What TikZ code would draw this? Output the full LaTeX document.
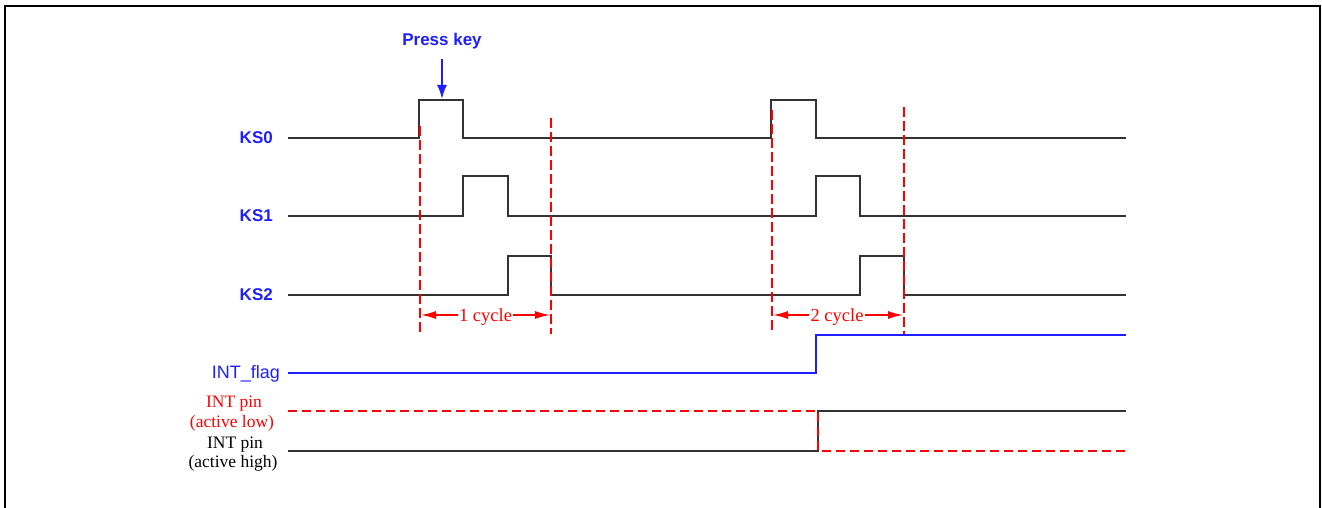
\documentclass[tikz,border=0pt]{standalone}
\usepackage{fontspec}
\setmainfont{Liberation Serif}
\setsansfont{Liberation Sans}
\usetikzlibrary{arrows.meta}
\definecolor{sigblue}{RGB}{30,30,255}
\definecolor{sigred}{RGB}{255,0,0}
\begin{document}
\begin{tikzpicture}[x=1pt,y=-1pt,
  frame/.style={line width=2.5pt,black},
  sig/.style={line width=1.9pt,black!80,line join=miter},
  bluesig/.style={line width=2.2pt,sigblue},
  reddash/.style={line width=2.6pt,sigred,dash pattern=on 9pt off 5pt},
  redvert/.style={line width=2.6pt,sigred,dash pattern=on 10pt off 4pt},
  cyclearrow/.style={line width=1.5pt,sigred,{Latex[length=15pt,width=8pt]}-{Latex[length=15pt,width=8pt]}},
  kslabel/.style={font=\sffamily\bfseries\fontsize{17}{20}\selectfont,text=sigblue,inner sep=0pt,anchor=east},
  serlabel/.style={font=\fontsize{17.5}{19}\selectfont,inner sep=0pt,anchor=base},
  cyclelabel/.style={font=\fontsize{18.5}{20}\selectfont,text=sigred,fill=white,inner sep=1.5pt,anchor=base}]
\useasboundingbox (0,0) rectangle (1322,508);
% frame
\draw[frame] (5,509) -- (5,6) -- (1320,6) -- (1320,509);

% labels
\node[kslabel] (ks0) at (273,138) {KS0};
\node[kslabel] (ks1) at (273,216) {KS1};
\node[kslabel] (ks2) at (273,295) {KS2};
\node[font=\sffamily\fontsize{18}{20}\selectfont,text=sigblue,inner sep=0pt,anchor=base east] (intflag) at (280,378) {INT\_flag};
\node[serlabel,text=sigred] (lowa) at (234,407) {INT pin};
\node[serlabel,text=sigred] (lowb) at (232,427) {(active low)};
\node[serlabel,text=black] (higha) at (235,448) {INT pin};
\node[serlabel,text=black] (highb) at (233,467) {(active high)};
\node[font=\sffamily\bfseries\fontsize{17}{20}\selectfont,text=sigblue,inner sep=0pt,anchor=base] (press) at (442,46) {Press key};

% press key arrow
\coordinate (pk) at (442,99);
\draw[line width=2pt,sigblue,-{Latex[length=14pt,width=10pt]}] (442,59) -- (pk);

% KS signals
\draw[sig] (288,138) -- (419,138) -- (419,100) -- (463,100) -- (463,138) -- (771,138) -- (771,100) -- (816,100) -- (816,138) -- (1126,138);
\draw[sig] (288,216) -- (463,216) -- (463,176) -- (508,176) -- (508,216) -- (816,216) -- (816,176) -- (860,176) -- (860,216) -- (1126,216);
\draw[sig] (288,295) -- (508,295) -- (508,256) -- (551,256) -- (551,295) -- (860,295) -- (860,256) -- (904,256) -- (904,295) -- (1126,295);

% red dashed cycle markers
\coordinate (a1t) at (420,126); \coordinate (a1b) at (420,334);
\coordinate (b1t) at (551,118); \coordinate (b1b) at (551,334);
\coordinate (a2t) at (772,110); \coordinate (a2b) at (772,334);
\coordinate (b2t) at (904,107); \coordinate (b2b) at (904,334);
\draw[redvert] (a1t) -- (a1b);
\draw[redvert] (b1t) -- (b1b);
\draw[redvert] (a2t) -- (a2b);
\draw[redvert] (b2t) -- (b2b);

\coordinate (c1l) at (421,315); \coordinate (c1r) at (550,315);
\coordinate (c2l) at (773,315); \coordinate (c2r) at (903,315);
\draw[cyclearrow] (c1l) -- (c1r);
\draw[cyclearrow] (c2l) -- (c2r);
\node[cyclelabel] (cyc1) at (485.5,321) {1 cycle};
\node[cyclelabel] (cyc2) at (837,321) {2 cycle};

% INT flag
\draw[bluesig] (288,373) -- (816,373) -- (816,335) -- (1126,335);
% INT pin active high
\draw[sig] (288,451) -- (818,451) -- (818,411) -- (1126,411);
% INT pin active low
\draw[reddash] (288,411) -- (818,411) -- (818,451) -- (1126,451);
\end{tikzpicture}
\end{document}
